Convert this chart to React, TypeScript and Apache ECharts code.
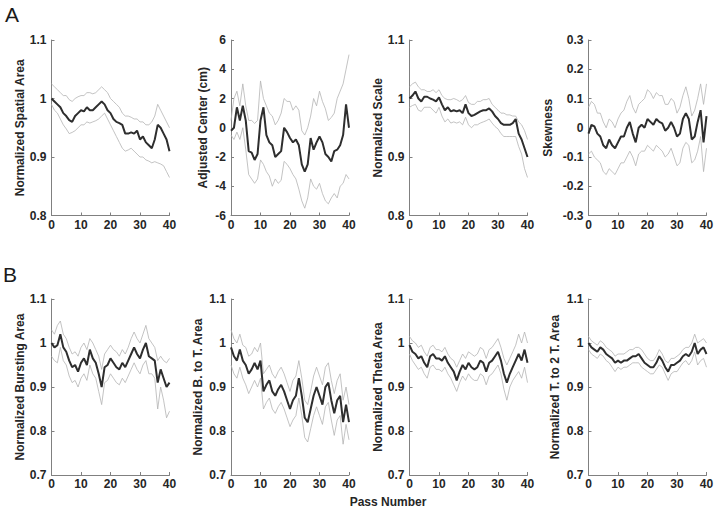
import React, { useEffect, useRef } from "react";
import * as echarts from "echarts";

const passNumbers = [0,1,2,3,4,5,6,7,8,9,10,11,12,13,14,15,16,17,18,19,20,21,22,23,24,25,26,27,28,29,30,31,32,33,34,35,36,37,38,39,40];

// Panel A1: Normalized Spatial Area
const spatialMean = [1.0,0.995,0.99,0.985,0.975,0.97,0.963,0.96,0.97,0.975,0.98,0.978,0.985,0.98,0.98,0.985,0.99,0.995,0.99,0.98,0.975,0.965,0.96,0.958,0.955,0.94,0.94,0.942,0.94,0.945,0.93,0.935,0.925,0.92,0.915,0.93,0.955,0.95,0.94,0.93,0.91];
const spatialUpper = [1.025,1.02,1.015,1.01,1.005,1.005,0.998,0.995,1.0,1.003,1.005,1.005,1.01,1.01,1.008,1.01,1.015,1.02,1.015,1.01,1.0,0.995,0.99,0.985,0.975,0.97,0.97,0.968,0.965,0.965,0.96,0.96,0.955,0.955,0.96,0.97,0.99,0.98,0.97,0.96,0.95];
const spatialLower = [0.99,0.98,0.975,0.965,0.955,0.948,0.94,0.942,0.945,0.95,0.955,0.955,0.96,0.958,0.96,0.962,0.965,0.97,0.975,0.965,0.955,0.945,0.935,0.925,0.915,0.91,0.912,0.915,0.91,0.905,0.9,0.9,0.895,0.893,0.89,0.892,0.89,0.888,0.885,0.875,0.865];

// Panel A2: Adjusted Center (cm)
const centerMean = [-0.2,0,1.4,0.5,1.5,0.5,-1.6,-1.7,-2.2,-1.8,0.5,1.4,-0.5,-1.0,-1.2,-2.0,-1.8,-1.6,0,-0.3,-0.7,-1.0,-0.8,-1.2,-2.5,-3.0,-2.5,-0.7,-1.5,-1.0,-0.6,-1.0,-1.8,-2.0,-2.3,-1.6,-1.5,-1.2,-0.5,1.6,0.0];
const centerUpper = [0.5,2.0,2.5,1.5,3.0,1.5,0.5,0.5,0.3,0.5,3.2,2.0,1.5,1.0,0.8,0.2,0.5,1.0,2.0,1.8,1.8,1.2,1.5,1.2,-0.2,-0.5,0.0,0.8,2.0,1.5,2.5,1.8,1.3,0.5,0.7,1.0,2.0,2.5,3.0,4.0,5.0];
const centerLower = [-0.5,-0.8,-0.3,-0.8,0.0,-1.5,-3.2,-3.5,-3.8,-3.5,-2.2,-2.5,-3.0,-3.3,-4.0,-3.5,-3.8,-3.6,-2.3,-2.5,-2.8,-3.2,-3.5,-4.2,-5.0,-5.5,-4.8,-3.5,-4.0,-4.2,-3.8,-4.5,-5.0,-5.2,-4.8,-4.5,-4.8,-4.0,-3.8,-3.2,-3.5];

// Panel A3: Normalized Scale
const scaleMean = [1.0,1.005,1.012,1.0,0.995,1.003,1.003,1.0,0.998,0.995,1.002,0.99,0.98,0.985,0.978,0.98,0.978,0.98,0.975,0.99,0.975,0.97,0.972,0.975,0.978,0.98,0.98,0.983,0.978,0.97,0.965,0.958,0.955,0.955,0.955,0.958,0.965,0.94,0.93,0.915,0.9];
const scaleUpper = [1.02,1.025,1.028,1.02,1.015,1.015,1.012,1.012,1.015,1.01,1.015,1.005,1.0,0.998,0.998,1.0,0.998,0.995,0.998,1.005,0.993,0.99,0.99,0.995,0.995,0.998,0.998,1.0,0.99,0.985,0.98,0.975,0.975,0.972,0.972,0.97,0.97,0.96,0.955,0.945,0.93];
const scaleLower = [0.985,0.988,0.99,0.98,0.978,0.985,0.985,0.985,0.98,0.975,0.985,0.97,0.96,0.965,0.958,0.96,0.958,0.96,0.955,0.968,0.955,0.95,0.955,0.955,0.958,0.96,0.962,0.965,0.958,0.952,0.948,0.94,0.935,0.935,0.935,0.935,0.935,0.918,0.905,0.88,0.865];

// Panel A4: Skewness
const skewMean = [-0.02,0.01,0.005,-0.02,-0.03,-0.06,-0.07,-0.04,-0.06,-0.07,-0.05,-0.03,-0.03,0.0,0.02,-0.02,-0.05,0.0,0.01,0.0,0.03,0.02,0.01,0.03,0.02,0.015,-0.01,0.0,0.02,0.0,-0.03,-0.02,0.03,0.05,0.03,-0.04,-0.03,0.02,0.06,-0.05,0.04];
const skewUpper = [0.07,0.09,0.08,0.05,0.05,0.02,0.0,0.03,0.02,0.0,0.03,0.05,0.06,0.09,0.11,0.07,0.05,0.08,0.09,0.1,0.13,0.12,0.1,0.12,0.11,0.11,0.08,0.08,0.1,0.09,0.05,0.07,0.11,0.14,0.1,0.04,0.06,0.1,0.15,0.08,0.15];
const skewLower = [-0.09,-0.08,-0.1,-0.11,-0.12,-0.15,-0.16,-0.14,-0.15,-0.16,-0.14,-0.12,-0.12,-0.1,-0.08,-0.1,-0.13,-0.09,-0.08,-0.08,-0.06,-0.07,-0.08,-0.06,-0.07,-0.08,-0.1,-0.09,-0.07,-0.1,-0.13,-0.12,-0.07,-0.05,-0.06,-0.12,-0.11,-0.08,-0.03,-0.15,-0.07];

// Panel B1: Normalized Bursting Area
const burstMean = [1.0,0.99,0.995,1.02,0.99,0.98,0.96,0.945,0.95,0.935,0.955,0.965,0.95,0.985,0.965,0.955,0.93,0.9,0.945,0.95,0.965,0.955,0.945,0.94,0.955,0.945,0.96,0.975,0.99,0.975,0.965,0.985,1.0,0.97,0.965,0.96,0.91,0.94,0.92,0.9,0.91];
const burstUpper = [1.03,1.02,1.04,1.05,1.02,1.01,0.99,0.975,0.98,0.97,0.99,1.0,0.985,1.01,1.0,0.985,0.97,0.94,0.975,0.985,0.995,0.985,0.98,0.97,0.985,0.975,0.99,1.01,1.025,1.01,1.0,1.02,1.04,1.01,1.0,0.99,0.96,0.97,0.96,0.955,0.965];
const burstLower = [0.97,0.96,0.955,0.99,0.96,0.95,0.925,0.91,0.915,0.9,0.92,0.93,0.915,0.95,0.93,0.92,0.89,0.86,0.91,0.915,0.93,0.92,0.91,0.905,0.92,0.91,0.925,0.94,0.955,0.94,0.93,0.95,0.96,0.93,0.93,0.92,0.85,0.9,0.87,0.83,0.845];

// Panel B2: Normalized B. to T. Area
const btMean = [0.99,0.97,0.96,0.985,0.96,0.95,0.93,0.94,0.955,0.94,0.96,0.89,0.905,0.915,0.89,0.88,0.895,0.905,0.89,0.87,0.85,0.87,0.88,0.92,0.88,0.83,0.82,0.85,0.88,0.9,0.88,0.86,0.9,0.91,0.87,0.84,0.87,0.88,0.82,0.86,0.82];
const btUpper = [1.03,1.01,1.0,1.02,0.995,0.99,0.97,0.975,0.99,0.98,1.0,0.93,0.94,0.95,0.93,0.92,0.935,0.945,0.93,0.91,0.89,0.915,0.925,0.96,0.92,0.87,0.86,0.89,0.925,0.945,0.925,0.905,0.945,0.955,0.915,0.885,0.915,0.93,0.87,0.9,0.86];
const btLower = [0.95,0.93,0.92,0.945,0.92,0.905,0.885,0.9,0.915,0.9,0.92,0.85,0.865,0.875,0.85,0.84,0.855,0.865,0.85,0.83,0.81,0.825,0.835,0.875,0.835,0.785,0.775,0.805,0.835,0.855,0.835,0.815,0.855,0.865,0.825,0.79,0.825,0.835,0.77,0.815,0.78];

// Panel B3: Normalized Theta Area
const thetaMean = [0.995,0.98,0.975,0.965,0.97,0.955,0.945,0.97,0.975,0.965,0.965,0.96,0.97,0.955,0.945,0.935,0.915,0.935,0.95,0.94,0.955,0.945,0.94,0.945,0.96,0.955,0.935,0.955,0.96,0.97,0.98,0.96,0.93,0.91,0.93,0.945,0.96,0.975,0.96,0.985,0.955];
const thetaUpper = [1.015,1.005,1.0,0.99,0.995,0.98,0.97,0.99,0.995,0.985,0.985,0.98,0.99,0.975,0.965,0.96,0.945,0.96,0.975,0.965,0.98,0.975,0.97,0.975,0.99,0.985,0.965,0.985,0.99,1.0,1.01,0.99,0.965,0.95,0.965,0.98,0.995,1.02,1.0,1.025,1.0];
const thetaLower = [0.975,0.96,0.95,0.94,0.945,0.93,0.92,0.945,0.95,0.94,0.94,0.935,0.945,0.93,0.92,0.905,0.89,0.91,0.925,0.915,0.93,0.92,0.915,0.915,0.93,0.925,0.905,0.925,0.93,0.94,0.95,0.93,0.895,0.87,0.9,0.915,0.925,0.935,0.92,0.945,0.91];

// Panel B4: Normalized T. to 2 T. Area
const t2Mean = [1.0,0.99,0.985,0.98,0.99,0.985,0.975,0.97,0.965,0.955,0.96,0.955,0.96,0.96,0.965,0.97,0.97,0.975,0.965,0.955,0.95,0.945,0.945,0.955,0.97,0.96,0.945,0.935,0.95,0.95,0.955,0.96,0.97,0.975,0.97,0.98,1.0,0.975,0.985,0.99,0.975];
const t2Upper = [1.015,1.005,1.0,0.995,1.005,1.0,0.99,0.985,0.98,0.97,0.975,0.975,0.975,0.98,0.985,0.985,0.99,0.99,0.985,0.975,0.965,0.96,0.96,0.97,0.985,0.975,0.96,0.955,0.965,0.965,0.97,0.975,0.985,0.99,0.99,1.0,1.02,1.0,1.005,1.01,1.0];
const t2Lower = [0.985,0.975,0.97,0.965,0.975,0.97,0.96,0.955,0.945,0.935,0.945,0.94,0.945,0.945,0.95,0.955,0.955,0.955,0.945,0.94,0.935,0.93,0.93,0.94,0.95,0.945,0.93,0.915,0.93,0.935,0.935,0.945,0.955,0.96,0.95,0.96,0.98,0.95,0.96,0.965,0.945];

const xTicks = { min: 0, max: 40, interval: 10 };

const panels = [
  { name: "Normalized Spatial Area", mean: spatialMean, upper: spatialUpper, lower: spatialLower, min: 0.8, max: 1.1, interval: 0.1 },
  { name: "Adjusted Center (cm)", mean: centerMean, upper: centerUpper, lower: centerLower, min: -6, max: 6, interval: 2 },
  { name: "Normalized Scale", mean: scaleMean, upper: scaleUpper, lower: scaleLower, min: 0.8, max: 1.1, interval: 0.1 },
  { name: "Skewness", mean: skewMean, upper: skewUpper, lower: skewLower, min: -0.3, max: 0.3, interval: 0.1 },
  { name: "Normalized Bursting Area", mean: burstMean, upper: burstUpper, lower: burstLower, min: 0.7, max: 1.1, interval: 0.1 },
  { name: "Normalized B. to T. Area", mean: btMean, upper: btUpper, lower: btLower, min: 0.7, max: 1.1, interval: 0.1 },
  { name: "Normalized Theta Area", mean: thetaMean, upper: thetaUpper, lower: thetaLower, min: 0.7, max: 1.1, interval: 0.1 },
  { name: "Normalized T. to 2 T. Area", mean: t2Mean, upper: t2Upper, lower: t2Lower, min: 0.7, max: 1.1, interval: 0.1 },
];

const FONT = "'Liberation Sans', Arial, Helvetica, sans-serif";
const TEXT = "#262626";
const AXIS = "#808080";

const lefts = [51.5, 231, 409.5, 588.5];
const tops = [40, 299];
const heights = [175.5, 176];
const nameGaps = [26, 22, 26, 35, 25, 27, 26, 28];

export default function App() {
  const ref = useRef<HTMLDivElement>(null);
  useEffect(() => {
    if (!ref.current) return;
    const chart = echarts.init(ref.current, null, { renderer: "svg" });
    const grids: any[] = [];
    const xAxes: any[] = [];
    const yAxes: any[] = [];
    const series: any[] = [];
    panels.forEach((p, i) => {
      const row = Math.floor(i / 4);
      const col = i % 4;
      grids.push({ left: lefts[col], top: tops[row], width: 118, height: heights[row], containLabel: false });
      xAxes.push({
        gridIndex: i, type: "value", ...xTicks,
        axisLine: { show: true, onZero: false, lineStyle: { color: AXIS, width: 1 } },
        axisTick: { show: true, inside: true, length: 3, lineStyle: { color: AXIS } },
        axisLabel: { color: TEXT, fontSize: 12, fontWeight: "bold", fontFamily: FONT, margin: 3 },
        splitLine: { show: false },
      });
      yAxes.push({
        gridIndex: i, type: "value", min: p.min, max: p.max, interval: p.interval,
        name: p.name, nameLocation: "middle", nameGap: nameGaps[i],
        nameTextStyle: { color: TEXT, fontSize: 12, fontWeight: "bold", fontFamily: FONT },
        axisLine: { show: true, onZero: false, lineStyle: { color: AXIS, width: 1 } },
        axisTick: { show: true, inside: true, length: 3, lineStyle: { color: AXIS } },
        axisLabel: { color: TEXT, fontSize: 12, fontWeight: "bold", fontFamily: FONT, margin: 5 },
        splitLine: { show: false },
      });
      const mk = (vals: number[]) => passNumbers.map((x, k) => [x, vals[k]]);
      series.push(
        { type: "line", xAxisIndex: i, yAxisIndex: i, data: mk(p.upper), showSymbol: false, symbol: "none", silent: true, lineStyle: { color: "#b4b4b4", width: 0.8 } },
        { type: "line", xAxisIndex: i, yAxisIndex: i, data: mk(p.lower), showSymbol: false, symbol: "none", silent: true, lineStyle: { color: "#b4b4b4", width: 0.8 } },
        { type: "line", xAxisIndex: i, yAxisIndex: i, data: mk(p.mean), showSymbol: false, symbol: "none", silent: true, lineStyle: { color: "#2e2e2e", width: 2 } },
      );
    });
    chart.setOption({
      animation: false,
      backgroundColor: "#ffffff",
      grid: grids,
      xAxis: xAxes,
      yAxis: yAxes,
      series,
      graphic: [
        { type: "text", left: 5, top: 4, style: { text: "A", fontSize: 21, fontFamily: FONT, fill: "#1a1a1a" } },
        { type: "text", left: 3, top: 264, style: { text: "B", fontSize: 21, fontFamily: FONT, fill: "#1a1a1a" } },
        { type: "text", x: 388, y: 502, style: { text: "Pass Number", fontSize: 12, fontWeight: "bold", fontFamily: FONT, fill: TEXT, align: "center", verticalAlign: "middle" } },
      ],
    });
    return () => chart.dispose();
  }, []);
  return <div ref={ref} style={{ position: "absolute", left: 0, top: 0, width: 720, height: 511 }} />;
}
